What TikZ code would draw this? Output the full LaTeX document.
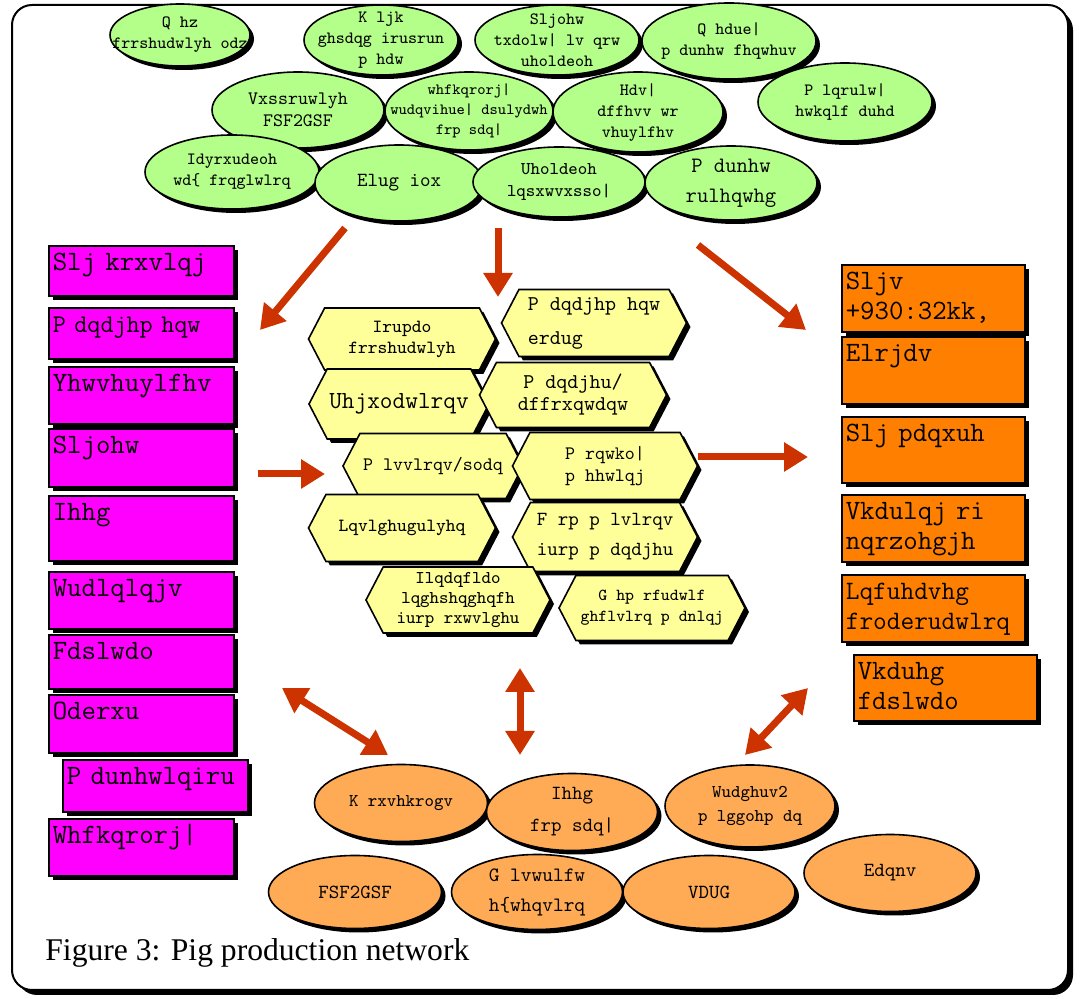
\documentclass[tikz,border=0pt]{standalone}
\usepackage{fontspec}
\setmainfont{Liberation Serif}
\usepackage{tikz}
\usetikzlibrary{arrows.meta, shapes.geometric, shapes.symbols, shadows}

\definecolor{leaf}{RGB}{179,255,137}
\definecolor{magbox}{RGB}{255,0,255}
\definecolor{orbox}{RGB}{255,128,0}
\definecolor{lemon}{RGB}{255,255,153}
\definecolor{peach}{RGB}{255,170,85}
\definecolor{rust}{RGB}{204,51,0}

\newcommand{\fsz}[2]{\ttfamily\fontsize{#1}{#2}\selectfont}

\tikzset{
    blackshadow/.style={drop shadow={shadow xshift=2pt, shadow yshift=-2pt, opacity=1, fill=black}},
    greenell/.style={ellipse, draw=black, thick, fill=leaf, blackshadow, inner xsep=-30pt, inner ysep=-20pt, align=center, font=\fsz{8.6}{10.5}},
    peachell/.style={ellipse, draw=black, thick, fill=peach, blackshadow, inner xsep=-30pt, inner ysep=-20pt, align=center, font=\fsz{9}{12}},
    hexnode/.style={signal, signal to=west and east, signal pointer angle=125, draw=black, thick, fill=lemon, blackshadow, inner sep=1pt, align=center, font=\fsz{9.5}{11}},
    magentabox/.style={rectangle, draw=black, thick, fill=magbox, blackshadow, anchor=north west, text width=88.5pt, inner sep=2pt, align=left, text height=10.5pt, text depth=#1, font=\fsz{14}{15}},
    orangebox/.style={rectangle, draw=black, thick, fill=orbox, blackshadow, anchor=north west, text width=87.5pt, inner sep=2pt, align=left, text height=10.5pt, text depth=#1, font=\fsz{14}{15}},
    bigarrow/.style={draw=rust, line width=3.5pt, -{Triangle[length=12pt, width=14pt]}},
    twoarrow/.style={draw=rust, line width=3.5pt, {Triangle[length=12pt, width=14pt]}-{Triangle[length=12pt, width=14pt]}}
}

\begin{document}
\begin{tikzpicture}[x=0.5pt, y=-0.5pt]
        \useasboundingbox (0, 0) rectangle (1083, 999);
        \draw[line width=1pt, fill=white, rounded corners=10pt, drop shadow={shadow xshift=2.5pt, shadow yshift=-2.5pt, opacity=1, fill=black}] (12, 5) rectangle (1068, 990);

        \node (g1) at (180, 35)[greenell, minimum width=70pt, minimum height=31pt] {Q hz\\frrshudwlyh odz};
        \node (g2) at (381, 40)[greenell, minimum width=77pt, minimum height=35pt] {K ljk\\ghsdqg irusrun\\p hdw};
        \node (g3) at (557, 40)[greenell, minimum width=82pt, minimum height=35pt] {Sljohw\\txdolw| lv qrw\\uholdeoh};
        \node (g4) at (729, 41)[greenell, minimum width=87pt, minimum height=38pt] {Q hdue|\\p dunhw fhqwhuv};
        \node (g5) at (845, 102)[greenell, minimum width=87pt, minimum height=39pt] {P lqrulw|\\hwkqlf duhd};
        \node (g6) at (298, 110)[greenell, minimum width=86pt, minimum height=38pt, font=\fsz{9.5}{11}] {Vxssruwlyh\\FSF2GSF};
        \node (g7) at (469, 111)[greenell, minimum width=84pt, minimum height=39pt, font=\fsz{7.8}{10}] {whfkqrorj|\\wudqvihue| dsulydwh\\frp sdq|};
        \node (g8) at (638, 112)[greenell, minimum width=85pt, minimum height=40pt] {Hdv|\\dffhvv wr\\vhuylfhv};
        \node (g9) at (232, 172)[greenell, minimum width=87pt, minimum height=37pt] {Idyrxudeoh\\wd\{ frqglwlrq};
        \node (g10) at (399, 183)[greenell, minimum width=84pt, minimum height=38pt, font=\fsz{10}{12}] {Elug iox};
        \node (g11) at (559, 182)[greenell, minimum width=86pt, minimum height=35pt, font=\fsz{9}{11}] {Uholdeoh\\lqsxwvxsso|};
        \node (g12) at (731, 183)[greenell, minimum width=86pt, minimum height=37pt, font=\fsz{11}{15}] {P dunhw\\rulhqwhg};

        \node (m1) at (48, 245)[magentabox=10.5pt] {Slj krxvlqj};
        \node (m2) at (48, 307)[magentabox=11pt, font=\fsz{12.7}{15}] {P dqdjhp hqw};
        \node (m3) at (48, 366)[magentabox=14pt] {Yhwvhuylfhv};
        \node (m4) at (48, 428)[magentabox=14.5pt] {Sljohw};
        \node (m5) at (48, 495)[magentabox=18pt] {Ihhg};
        \node (m6) at (48, 571)[magentabox=14pt] {Wudlqlqjv};
        \node (m7) at (48, 634)[magentabox=12.5pt] {Fdslwdo};
        \node (m8) at (48, 694)[magentabox=14.5pt] {Oderxu};
        \node (m9) at (62, 759)[magentabox=11.5pt] {P dunhwlqiru};
        \node (m10) at (48, 818)[magentabox=14pt] {Whfkqrorj|};

        \node (o1) at (841, 264)[orangebox=19pt] {Sljv\\+930:32kk,};
        \node (o2) at (841, 336)[orangebox=19pt] {Elrjdv};
        \node (o3) at (841, 416)[orangebox=18.5pt] {Slj pdqxuh};
        \node (o4) at (841, 494)[orangebox=19pt] {Vkdulqj ri\\nqrzohgjh};
        \node (o5) at (841, 574)[orangebox=19pt, font=\fsz{13.3}{15}] {Lqfuhdvhg\\froderudwlrq};
        \node (o6) at (853, 654)[orangebox=18.5pt] {Vkduhg\\fdslwdo};

        \node (y1) at (402, 339)[hexnode, minimum width=93.5pt, minimum height=31pt, font=\fsz{9.3}{10.5}] {Irupdo\\frrshudwlyh};
        \node (y2) at (594, 323)[hexnode, minimum width=92.5pt, minimum height=33.5pt, align=left, font=\fsz{10.5}{17}] {P dqdjhp hqw\\erdug};
        \node (y3) at (399, 404)[hexnode, minimum width=90pt, minimum height=35pt, font=\fsz{12.3}{13}] {Uhjxodwlrqv};
        \node (y4) at (573, 395)[hexnode, minimum width=93.5pt, minimum height=32.5pt, font=\fsz{10.5}{11}] {P dqdjhu/\\dffrxqwdqw};
        \node (y5) at (433, 466)[hexnode, minimum width=90pt, minimum height=32.5pt] {P lvvlrqv/sodq};
        \node (y6) at (605, 466)[hexnode, minimum width=92.5pt, minimum height=33.5pt] {P rqwko|\\p hhwlqj};
        \node (y7) at (402, 528)[hexnode, minimum width=93.5pt, minimum height=33.5pt, font=\fsz{9.3}{11}] {Lqvlghugulyhq};
        \node (y8) at (605, 537)[hexnode, minimum width=92.5pt, minimum height=34.5pt, align=left, font=\fsz{10}{15}] {F rp p lvlrqv\\iurp p dqdjhu};
        \node (y9) at (458, 600)[hexnode, minimum width=92pt, minimum height=33pt, font=\fsz{9}{10}] {Ilqdqfldo\\lqghshqghqfh\\iurp rxwvlghu};
        \node (y10) at (652, 608)[hexnode, minimum width=93pt, minimum height=32.5pt, font=\fsz{8.4}{10.5}] {G hp rfudwlf\\ghflvlrq p dnlqj};

        \node (b1) at (401, 803)[peachell, minimum width=86.5pt, minimum height=38.5pt] {K rxvhkrogv};
        \node (b2) at (572, 812)[peachell, minimum width=85.5pt, minimum height=38.5pt, font=\fsz{10}{16}] {Ihhg\\frp sdq|};
        \node (b3) at (750, 806)[peachell, minimum width=85pt, minimum height=41pt] {Wudghuv2\\p lggohp dq};
        \node (b4) at (355, 892)[peachell, minimum width=86.5pt, minimum height=36.5pt, font=\fsz{10}{12}] {FSF2GSF};
        \node (b5) at (537, 892)[peachell, minimum width=85.5pt, minimum height=37.5pt, font=\fsz{10.2}{15}] {G lvwulfw\\h\{whqvlrq};
        \node (b6) at (709, 892)[peachell, minimum width=86pt, minimum height=36.5pt, font=\fsz{10}{12}] {VDUG};
        \node (b7) at (890, 873)[peachell, minimum width=86pt, minimum height=38.5pt, font=\fsz{10}{12}] {Edqnv};

        \coordinate (a1s) at (345, 228);
        \coordinate (a1e) at (260, 330);
        \coordinate (a2s) at (498, 228);
        \coordinate (a2e) at (498, 297);
        \coordinate (a3s) at (698, 245);
        \coordinate (a3e) at (806, 330);
        \coordinate (a4s) at (258, 474);
        \coordinate (a4e) at (325, 474);
        \coordinate (a5s) at (698, 457);
        \coordinate (a5e) at (808, 457);
        \coordinate (a6s) at (282, 688);
        \coordinate (a6e) at (388, 755);
        \coordinate (a7s) at (520, 668);
        \coordinate (a7e) at (520, 755);
        \coordinate (a8s) at (808, 688);
        \coordinate (a8e) at (745, 755);

        \draw[bigarrow] (a1s) -- (a1e);
        \draw[bigarrow] (a2s) -- (a2e);
        \draw[bigarrow] (a3s) -- (a3e);
        \draw[bigarrow] (a4s) -- (a4e);
        \draw[bigarrow] (a5s) -- (a5e);
        \draw[twoarrow] (a6s) -- (a6e);
        \draw[twoarrow] (a7s) -- (a7e);
        \draw[twoarrow] (a8s) -- (a8e);

        \node (cap) at (45, 953)[anchor=west, inner sep=0pt, font=\fontsize{15.8}{18}\selectfont] {Figure 3: Pig production network};
    \end{tikzpicture}
\end{document}
